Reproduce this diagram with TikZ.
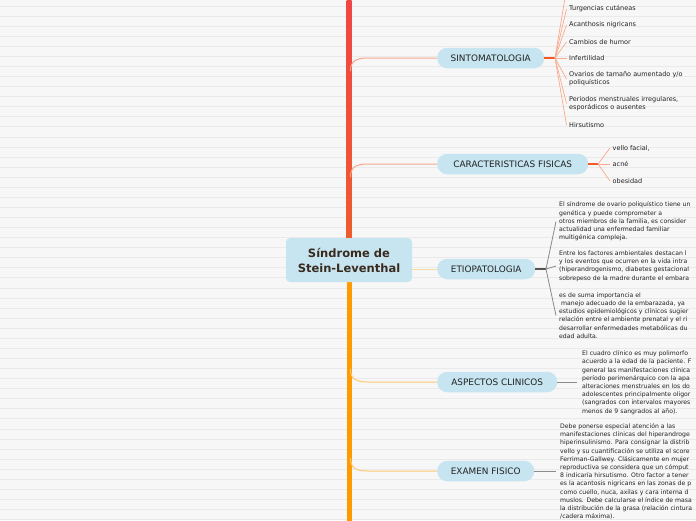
\documentclass[tikz,border=0pt]{standalone}
\usepackage{fontspec}
\setmainfont{DejaVu Sans}
\definecolor{bg}{HTML}{F7F7F7}
\definecolor{gridc}{HTML}{EAEAEA}
\definecolor{nodeblue}{HTML}{C6E5F0}
\definecolor{txt}{HTML}{222222}
\definecolor{titletxt}{HTML}{3A2A1E}
\definecolor{trunkA}{HTML}{F04545}
\definecolor{trunkB}{HTML}{EE5C2E}
\definecolor{trunkC}{HTML}{FF9A00}
\definecolor{upconnc}{HTML}{F7A68A}
\definecolor{stemred}{HTML}{F05A28}
\definecolor{fanred}{HTML}{F9AA8E}
\definecolor{loconnc}{HTML}{FFC874}
\definecolor{etioconnc}{HTML}{FFD9A4}
\definecolor{graystem}{HTML}{555555}
\definecolor{grayline}{HTML}{8A8A8A}
\begin{document}
\begin{tikzpicture}[x=1pt,y=-1pt,
  pill/.style={fill=nodeblue,rounded corners=10pt,minimum height=20.5pt,inner sep=0pt,
    font=\fontsize{8.9}{10}\selectfont,text=txt,anchor=west},
  item/.style={anchor=west,inner sep=2.5pt,align=left,font=\fontsize{6.5}{8.2}\selectfont,text=txt},
  para/.style={anchor=west,inner sep=3pt,align=left,font=\fontsize{6.15}{8.2}\selectfont,text=txt},
  upconn/.style={draw=upconnc,line width=1pt},
  loconn/.style={draw=loconnc,line width=1pt},
  stem/.style={draw=stemred,line width=1.6pt},
  fanline/.style={draw=fanred,line width=0.7pt},
  gstem/.style={draw=graystem,line width=1.6pt},
  gline/.style={draw=grayline,line width=0.8pt},
]
\useasboundingbox (0,0) rectangle (696,520);
\clip (0,0) rectangle (696,520);
\fill[bg] (0,0) rectangle (696,520);
\foreach \k in {0,...,51} \draw[gridc,line width=0.8pt] (0,{6+10.07*\k}) -- (696,{6+10.07*\k});

% trunk
\shade[top color=trunkA,bottom color=trunkB] (346.5,-1) rectangle (351.5,242);
\fill[trunkC] (346.5,278) rectangle (351.5,521);

% root
\node[fill=nodeblue,rounded corners=4pt,minimum width=126pt,minimum height=44pt,inner sep=0pt,
  align=center,font=\bfseries\fontsize{11.5}{15}\selectfont,text=titletxt] (root) at (349,260)
  {Síndrome de\\Stein-Leventhal};

% branch nodes
\node[pill,minimum width=107pt] (sint) at (437,58) {SINTOMATOLOGIA};
\node[pill,minimum width=151pt] (carac) at (437,164) {CARACTERISTICAS FISICAS};
\node[pill,minimum width=98pt] (etio) at (437,269) {ETIOPATOLOGIA};
\node[pill,minimum width=120pt] (asp) at (437,382) {ASPECTOS CLINICOS};
\node[pill,minimum width=97pt] (exam) at (437,471) {EXAMEN FISICO};

% trunk anchor points
\coordinate (t1) at (350.5,71);
\coordinate (t2) at (350.5,177);
\coordinate (t4) at (350.5,369);
\coordinate (t5) at (350.5,458);

\draw[upconn] (t1) .. controls (350.5,61) and (356,58) .. (368,58) -- (sint.west);
\draw[upconn] (t2) .. controls (350.5,167) and (356,164) .. (368,164) -- (carac.west);
\draw[loconn] (t4) .. controls (350.5,379) and (356,382) .. (368,382) -- (asp.west);
\draw[loconn] (t5) .. controls (350.5,468) and (356,471) .. (368,471) -- (exam.west);
\draw[draw=etioconnc,line width=1pt] (root.east |- etio.west) -- (etio.west);

% SINTOMATOLOGIA children
\coordinate (sf) at (555,58);
\coordinate (offtop) at (567,-14);
\node[item] (s1) at (566.5,9) {Turgencias cutáneas};
\node[item] (s2) at (566.5,25) {Acanthosis nigricans};
\node[item] (s3) at (566.5,42) {Cambios de humor};
\node[item] (s4) at (566.5,58) {Infertilidad};
\node[item] (s5) at (566.5,79) {Ovarios de tamaño aumentado y/o\\poliquísticos};
\node[item] (s6) at (566.5,103.5) {Periodos menstruales irregulares,\\esporádicos o ausentes};
\node[item] (s7) at (566.5,125) {Hirsutismo};
\draw[stem] (sint.east) -- (sf);
\draw[fanline] (sf) -- (offtop);
\foreach \c in {s1,s2,s3,s4,s5,s6,s7} \draw[fanline] (sf) -- (\c.west);

% CARACTERISTICAS children
\coordinate (cf) at (598,164);
\node[item] (c1) at (610,148) {vello facial,};
\node[item] (c2) at (610,164) {acné};
\node[item] (c3) at (610,181) {obesidad};
\draw[stem] (carac.east) -- (cf);
\foreach \c in {c1,c2,c3} \draw[fanline] (cf) -- (\c.west);

% ETIOPATOLOGIA children
\coordinate (ef) at (546,269);
\node[para] (e1) at (556,221.5) {El síndrome de ovario poliquístico tiene un\\genética y puede comprometer a\\otros miembros de la familia, es consider\\actualidad una enfermedad familiar\\multigénica compleja.};
\node[para] (e2) at (556,266) {Entre los factores ambientales destacan l\\y los eventos que ocurren en la vida intra\\(hiperandrogenismo, diabetes gestacional\\sobrepeso de la madre durante el embara};
\node[para] (e3) at (556,315.5) {es de suma importancia el\\\ manejo adecuado de la embarazada, ya\\estudios epidemiológicos y clínicos sugier\\relación entre el ambiente prenatal y el ri\\desarrollar enfermedades metabólicas du\\edad adulta.};
\draw[gstem] (etio.east) -- (ef);
\foreach \c in {e1,e2,e3} \draw[gline] (ef) -- (\c.west);

% ASPECTOS CLINICOS
\node[para] (a1) at (579,382.5) {El cuadro clínico es muy polimorfo\\acuerdo a la edad de la paciente. F\\general las manifestaciones clínica\\período perimenárquico con la apa\\alteraciones menstruales en los do\\adolescentes principalmente oligor\\(sangrados con intervalos mayores\\menos de 9 sangrados al año).};
\draw[gline] (asp.east) -- ([xshift=-2pt]asp.east -| a1.west);

% EXAMEN FISICO
\node[para] (x1) at (557,471.5) {Debe ponerse especial atención a las\\manifestaciones clínicas del hiperandroge\\hiperinsulinismo. Para consignar la distrib\\vello y su cuantificación se utiliza el score\\Ferriman-Gallwey. Clásicamente en mujer\\reproductiva se considera que un cómput\\8 indicaría hirsutismo. Otro factor a tener\\es la acantosis nigricans en las zonas de p\\como cuello, nuca, axilas y cara interna d\\muslos. Debe calcularse el índice de masa\\la distribución de la grasa (relación cintura\\/cadera máxima).};
\draw[gline] (exam.east) -- ([xshift=-1pt]exam.east -| x1.west);
\end{tikzpicture}
\end{document}
